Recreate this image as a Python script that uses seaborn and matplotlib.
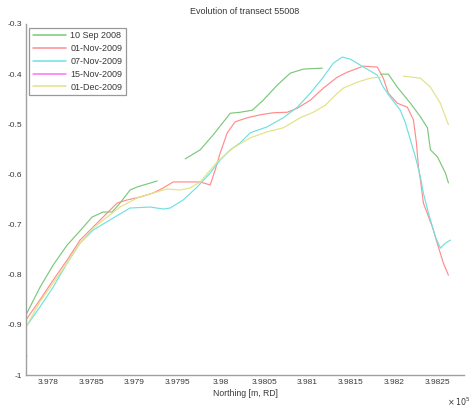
import numpy as np
import pandas as pd
import matplotlib
matplotlib.use("Agg")
import matplotlib.pyplot as plt
import seaborn as sns

# ---- data (northing in metres, RD; elevation) ----
labels = ["10 Sep 2008", "01-Nov-2009", "07-Nov-2009", "15-Nov-2009", "01-Dec-2009"]

sep08_x1 = [397774.5, 397790.7, 397805.8, 397822.0, 397834.7, 397850.9, 397863.7, 397874.1,
            397883.3, 397894.9, 397903.0, 397914.6, 397926.2]
sep08_y1 = [-0.880, -0.825, -0.781, -0.741, -0.717, -0.685, -0.675, -0.675,
            -0.657, -0.631, -0.625, -0.619, -0.613]
sep08_x2 = [397958.6, 397975.9, 397991.0, 398010.7, 398022.2, 398036.1, 398048.8, 398065.0,
            398080.1, 398095.1, 398117.1]
sep08_y2 = [-0.569, -0.551, -0.521, -0.478, -0.476, -0.472, -0.452, -0.422,
            -0.398, -0.390, -0.388]
sep08_x3 = [398184.3, 398193.5, 398203.9, 398219.0, 398230.6, 398238.7, 398242.2, 398250.3,
            398259.5, 398263.0]
sep08_y3 = [-0.400, -0.400, -0.426, -0.458, -0.485, -0.507, -0.551, -0.565,
            -0.597, -0.617]

nov01_x = [397774.5, 397790.7, 397805.8, 397822.0, 397837.0, 397852.1, 397868.3, 397879.9,
           397891.4, 397906.5, 397921.5, 397933.1, 397944.7, 397960.9, 397975.9, 397987.5,
           397993.3, 397999.1, 398007.2, 398016.4, 398030.3, 398045.4, 398060.4, 398076.6,
           398088.2, 398103.2, 398118.3, 398134.5, 398146.1, 398164.6, 398180.8, 398187.7,
           398193.5, 398203.9, 398215.5, 398222.5, 398226.0, 398228.3, 398230.6, 398234.0,
           398244.5, 398251.4, 398257.2, 398263.0]
nov01_y = [-0.890, -0.850, -0.811, -0.771, -0.731, -0.705, -0.677, -0.657,
           -0.651, -0.645, -0.637, -0.627, -0.615, -0.615, -0.615, -0.621,
           -0.591, -0.557, -0.517, -0.495, -0.487, -0.481, -0.477, -0.476,
           -0.468, -0.452, -0.428, -0.406, -0.396, -0.384, -0.386, -0.408,
           -0.438, -0.458, -0.466, -0.491, -0.537, -0.585, -0.611, -0.657,
           -0.705, -0.745, -0.777, -0.801]

nov07_x = [397774.5, 397790.7, 397805.8, 397822.0, 397837.0, 397852.1, 397875.2, 397894.9,
           397918.1, 397933.1, 397941.2, 397956.2, 397972.5, 397987.5, 397999.1, 398010.7,
           398022.2, 398033.8, 398053.5, 398072.0, 398088.2, 398103.2, 398118.3, 398129.9,
           398140.3, 398149.5, 398161.1, 398180.8, 398187.7, 398195.8, 398207.4, 398213.2,
           398219.0, 398224.8, 398230.6, 398234.0, 398239.9, 398248.0, 398253.7, 398259.5,
           398265.3]
nov07_y = [-0.904, -0.864, -0.825, -0.777, -0.737, -0.711, -0.687, -0.667,
           -0.665, -0.669, -0.667, -0.651, -0.625, -0.597, -0.571, -0.551,
           -0.537, -0.517, -0.505, -0.487, -0.466, -0.438, -0.406, -0.378,
           -0.366, -0.370, -0.382, -0.402, -0.426, -0.446, -0.472, -0.497,
           -0.531, -0.565, -0.605, -0.637, -0.677, -0.725, -0.747, -0.737,
           -0.731]

nov15_x = [397774.5, 397775.5]
nov15_y = [-0.956, -0.962]

dec01_x1 = [397774.5, 397790.7, 397805.8, 397822.0, 397837.0, 397852.1, 397868.3, 397883.3,
            397903.0, 397921.5, 397937.7, 397952.8, 397964.4, 397975.9, 397995.6, 398014.1,
            398033.8, 398053.5, 398072.0, 398091.7, 398106.7, 398120.6, 398134.5, 398141.4,
            398157.6, 398172.7, 398184.3]
dec01_y1 = [-0.904, -0.854, -0.817, -0.777, -0.737, -0.707, -0.685, -0.665,
            -0.647, -0.637, -0.629, -0.631, -0.627, -0.615, -0.575, -0.547,
            -0.527, -0.515, -0.507, -0.487, -0.476, -0.462, -0.438, -0.428,
            -0.416, -0.408, -0.406]
dec01_x2 = [398210.9, 398230.6, 398242.2, 398253.7, 398263.0]
dec01_y2 = [-0.404, -0.408, -0.426, -0.458, -0.501]

xticks = [397800, 397850, 397900, 397950, 398000, 398050, 398100, 398150, 398200, 398250]
xticklabels = ["3.978", "3.9785", "3.979", "3.9795", "3.98", "3.9805", "3.981", "3.9815", "3.982", "3.9825"]
yticks = [-1.0, -0.9, -0.8, -0.7, -0.6, -0.5, -0.4, -0.3]
yticklabels = ["-1", "-0.9", "-0.8", "-0.7", "-0.6", "-0.5", "-0.4", "-0.3"]

colors = ["#7cc87c", "#ff8c8c", "#70e0e0", "#ff70ff", "#e2e288"]

# ---- long table ----
segments = [
    (labels[0], 0, sep08_x1, sep08_y1), (labels[0], 1, sep08_x2, sep08_y2), (labels[0], 2, sep08_x3, sep08_y3),
    (labels[1], 3, nov01_x, nov01_y),
    (labels[2], 4, nov07_x, nov07_y),
    (labels[3], 5, nov15_x, nov15_y),
    (labels[4], 6, dec01_x1, dec01_y1), (labels[4], 7, dec01_x2, dec01_y2),
]
rows = []
for lab, seg, xs, ys in segments:
    for i, (xv, yv) in enumerate(zip(xs, ys)):
        rows.append({"date": lab, "seg": seg, "order": i, "x": xv, "y": yv})
df = pd.DataFrame(rows)

sns.set_style("white")
plt.rcParams["font.family"] = ["Liberation Sans", "DejaVu Sans"]
txt = "#383838"

fig = plt.figure(figsize=(4.74, 4.13), dpi=100)
ax = fig.add_axes([26 / 474, 1 - 375 / 413, 438 / 474, 351 / 413])

sns.lineplot(data=df, x="x", y="y", hue="date", hue_order=labels, units="seg",
             estimator=None, sort=False, palette=colors, linewidth=0.85, ax=ax)

ax.set_xlim(397774.5, 398281)
ax.set_ylim(-1.0, -0.3)
ax.set_xticks(xticks)
ax.set_xticklabels(xticklabels)
ax.set_yticks(yticks)
ax.set_yticklabels(yticklabels)
ax.tick_params(direction="in", length=2.5, width=0.6, colors="#888888",
               labelcolor=txt, labelsize=6.0, pad=3)
for s in ["top", "right"]:
    ax.spines[s].set_visible(False)
for s in ["left", "bottom"]:
    ax.spines[s].set_color("#a0a0a0")
    ax.spines[s].set_linewidth(1.0)

ax.set_xlabel("Northing [m, RD]", fontsize=6.2, color=txt, labelpad=2)
ax.set_ylabel("")
ax.set_title("Evolution of transect 55008", fontsize=6.5, color=txt, pad=7)
fig.text(447 / 474, 1 - 402 / 413, r"$\times\,10^{5}$", fontsize=5.8, color=txt, ha="left", va="center")

handles, labs = ax.get_legend_handles_labels()
for h, c in zip(handles, colors):
    h.set_color(c)
    h.set_linewidth(1.1)
leg = ax.legend(handles, labs, loc="upper left", bbox_to_anchor=(0.007, 0.989),
                borderaxespad=0, fontsize=6.5, handlelength=3.7, handletextpad=0.45,
                labelspacing=0.42, borderpad=0.4, fancybox=False, framealpha=1,
                edgecolor="#999999", labelcolor=txt)
leg.get_frame().set_linewidth(0.9)

fig.savefig("out.png", dpi=100)
